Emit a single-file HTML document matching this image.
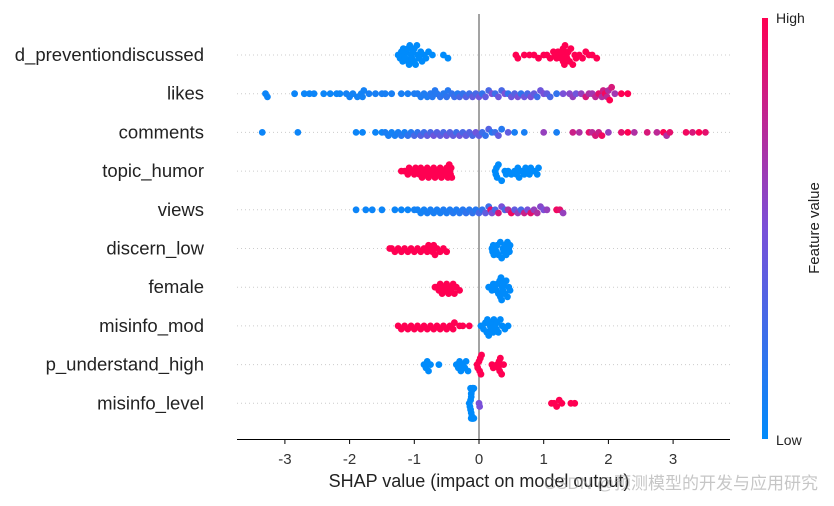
<!DOCTYPE html>
<html><head><meta charset="utf-8"><style>
body{margin:0;background:#fff;}
svg{font-family:"Liberation Sans","Noto Sans CJK SC",sans-serif;}
</style></head><body>
<svg id="chart" width="834" height="501" viewBox="0 0 834 501">
<defs><linearGradient id="cb" x1="0" y1="1" x2="0" y2="0">
<stop offset="0" stop-color="#008bfb"/><stop offset="0.5" stop-color="#7a50d8"/><stop offset="1" stop-color="#ff0052"/></linearGradient></defs>
<g id="grid"></g>
<line x1="479" y1="14" x2="479" y2="440" stroke="#999" stroke-width="1.8"/>
<g id="dots"></g>
<g id="labels"></g>
<line x1="237" y1="439.5" x2="730" y2="439.5" stroke="#000" stroke-width="1"/>
<g id="ticks"></g>
<text x="479" y="487" font-size="18" text-anchor="middle" fill="#222">SHAP value (impact on model output)</text>
<rect x="762" y="18" width="6" height="421" fill="url(#cb)"/>
<text x="776" y="23" font-size="14" fill="#222">High</text>
<text x="776" y="445" font-size="14" fill="#222">Low</text>
<text transform="translate(819,228) rotate(-90)" font-size="15" text-anchor="middle" fill="#222">Feature value</text>
<text x="818" y="489" font-size="17" text-anchor="end" fill="#999" opacity="0.55">CSDN @预测模型的开发与应用研究</text>
</svg>
<script>
const features = ["d_preventiondiscussed","likes","comments","topic_humor","views","discern_low","female","misinfo_mod","p_understand_high","misinfo_level"];
const xTicks = [-3,-2,-1,0,1,2,3];
const shap0 = [-1.25,-1.22,-1.2,-1.18,-1.17,-1.15,-1.14,-1.12,-1.1,-1.1,-1.08,-1.07,-1.05,-1.04,-1.02,-1.0,-1.0,-0.98,-0.96,-0.95,-0.93,-0.9,-0.88,-0.85,-0.82,-0.78,-0.72,-0.55,-0.48,0.57,0.6,0.7,0.78,0.85,0.92,1.0,1.05,1.1,1.15,1.18,1.2,1.22,1.25,1.27,1.28,1.3,1.3,1.32,1.33,1.35,1.36,1.38,1.4,1.42,1.45,1.48,1.5,1.55,1.6,1.65,1.7,1.75,1.82];
const val0 = [0,0,0,0,0,0,0,0,0,0,0,0,0,0,0,0,0,0,0,0,0,0,0,0,0,0,0,0,0,1,1,1,1,1,1,1,1,1,1,1,1,1,1,1,1,1,1,1,1,1,1,1,1,1,1,1,1,1,1,1,1,1,1];
const shap1 = [-3.3,-3.27,-2.85,-2.7,-2.62,-2.55,-2.4,-2.3,-2.2,-2.15,-2.05,-2.0,-1.95,-1.88,-1.82,-1.8,-1.78,-1.7,-1.6,-1.5,-1.45,-1.35,-1.2,-1.1,-1.0,-0.95,-0.9,-0.85,-0.8,-0.75,-0.72,-0.68,-0.65,-0.6,-0.55,-0.5,-0.48,-0.42,-0.38,-0.33,-0.3,-0.25,-0.2,-0.15,-0.1,-0.05,0.0,0.05,0.1,0.15,0.2,0.25,0.3,0.35,0.4,0.45,0.5,0.55,0.6,0.65,0.7,0.75,0.8,0.85,0.9,0.95,1.0,1.05,1.1,1.2,1.3,1.4,1.45,1.5,1.58,1.65,1.7,1.75,1.8,1.85,1.9,1.92,1.95,1.98,2.0,2.02,2.05,2.1,2.2,2.3];
const val1 = [0.05,0.05,0.05,0.05,0.05,0.05,0.05,0.05,0.05,0.05,0.08,0.08,0.08,0.08,0.08,0.08,0.08,0.1,0.1,0.1,0.1,0.1,0.1,0.1,0.12,0.12,0.12,0.12,0.12,0.15,0.15,0.15,0.15,0.2,0.15,0.2,0.15,0.2,0.25,0.15,0.3,0.2,0.35,0.25,0.4,0.3,0.45,0.2,0.4,0.3,0.5,0.25,0.45,0.3,0.5,0.2,0.45,0.35,0.5,0.2,0.45,0.3,0.5,0.4,0.25,0.45,0.5,0.4,0.3,0.2,0.5,0.55,0.6,0.45,0.6,0.85,0.7,0.65,0.75,0.9,0.7,0.8,0.95,0.75,0.7,1,0.85,0.65,1,1];
const shap2 = [-3.35,-2.8,-1.9,-1.8,-1.6,-1.5,-1.45,-1.4,-1.35,-1.3,-1.25,-1.2,-1.15,-1.1,-1.05,-1.0,-0.95,-0.9,-0.85,-0.8,-0.75,-0.7,-0.65,-0.6,-0.55,-0.5,-0.45,-0.4,-0.35,-0.3,-0.25,-0.2,-0.15,-0.1,-0.05,0.0,0.05,0.1,0.15,0.2,0.25,0.3,0.35,0.45,0.55,0.7,1.0,1.2,1.45,1.55,1.7,1.75,1.8,1.85,1.9,2.0,2.2,2.3,2.4,2.6,2.75,2.85,2.9,2.95,3.2,3.3,3.4,3.5];
const val2 = [0.05,0.05,0.05,0.05,0.05,0.05,0.1,0.1,0.08,0.1,0.1,0.15,0.1,0.2,0.15,0.3,0.2,0.35,0.25,0.4,0.3,0.45,0.35,0.4,0.3,0.45,0.35,0.4,0.25,0.45,0.3,0.4,0.35,0.3,0.45,0.4,0.25,0.2,0.35,0.15,0.25,0.4,0.15,0.4,0.1,0.1,0.6,0.1,0.8,0.7,0.9,0.75,0.85,0.8,0.95,0.6,0.9,1,0.7,0.85,0.75,1,0.7,0.9,0.95,0.85,1,0.9];
const shap3 = [-1.2,-1.15,-1.1,-1.08,-1.05,-1.0,-0.98,-0.95,-0.92,-0.9,-0.88,-0.85,-0.82,-0.8,-0.78,-0.75,-0.72,-0.7,-0.68,-0.65,-0.62,-0.6,-0.58,-0.55,-0.52,-0.5,-0.48,-0.46,-0.45,-0.44,-0.43,-0.42,0.25,0.26,0.27,0.28,0.3,0.35,0.4,0.42,0.45,0.5,0.55,0.58,0.6,0.62,0.65,0.7,0.72,0.75,0.78,0.8,0.85,0.9,0.92];
const val3 = [1,1,1,1,1,1,1,1,1,1,1,1,1,1,1,1,1,1,1,1,1,1,1,1,1,1,1,1,1,1,1,1,0,0,0,0,0,0,0,0,0,0,0,0,0,0,0,0,0,0,0,0,0,0,0];
const shap4 = [-1.9,-1.75,-1.65,-1.5,-1.3,-1.2,-1.1,-1.0,-0.95,-0.9,-0.85,-0.8,-0.75,-0.7,-0.65,-0.6,-0.55,-0.5,-0.45,-0.4,-0.35,-0.3,-0.25,-0.2,-0.15,-0.1,-0.05,0.0,0.05,0.1,0.15,0.18,0.2,0.25,0.3,0.35,0.4,0.45,0.5,0.55,0.6,0.65,0.7,0.75,0.8,0.85,0.9,0.95,1.0,1.05,1.2,1.25,1.3];
const val4 = [0.05,0.05,0.05,0.05,0.05,0.05,0.05,0.08,0.08,0.08,0.08,0.1,0.1,0.1,0.1,0.1,0.12,0.12,0.12,0.15,0.12,0.15,0.15,0.2,0.15,0.2,0.15,0.3,0.2,0.4,0.25,0.9,0.5,0.3,0.85,0.5,0.3,0.7,0.95,0.4,0.6,0.3,0.8,0.5,0.9,0.6,0.7,0.55,0.5,0.6,0.95,0.9,0.6];
const shap5 = [-1.38,-1.35,-1.3,-1.25,-1.2,-1.15,-1.1,-1.05,-1.0,-0.95,-0.9,-0.85,-0.8,-0.78,-0.75,-0.72,-0.7,-0.68,-0.65,-0.6,-0.55,-0.5,0.2,0.21,0.22,0.23,0.25,0.27,0.28,0.3,0.33,0.35,0.37,0.38,0.4,0.42,0.44,0.46,0.47,0.48];
const val5 = [1,1,1,1,1,1,1,1,1,1,1,1,1,1,1,1,1,1,1,1,1,1,0,0,0,0,0,0,0,0,0,0,0,0,0,0,0,0,0,0];
const shap6 = [-0.68,-0.65,-0.62,-0.6,-0.57,-0.55,-0.52,-0.5,-0.47,-0.45,-0.43,-0.4,-0.38,-0.35,-0.3,0.15,0.18,0.2,0.22,0.25,0.27,0.28,0.3,0.32,0.33,0.34,0.35,0.36,0.37,0.38,0.4,0.42,0.44,0.46,0.48];
const val6 = [1,1,1,1,1,1,1,1,1,1,1,1,1,1,1,0,0,0,0,0,0,0,0,0,0,0,0,0,0,0,0,0,0,0,0];
const shap7 = [-1.25,-1.2,-1.15,-1.1,-1.05,-1.0,-0.95,-0.9,-0.85,-0.8,-0.75,-0.7,-0.65,-0.6,-0.55,-0.5,-0.45,-0.4,-0.38,-0.3,-0.25,-0.15,0.03,0.05,0.07,0.1,0.12,0.13,0.15,0.17,0.18,0.2,0.22,0.23,0.25,0.27,0.28,0.3,0.33,0.36,0.4,0.45];
const val7 = [1,1,1,1,1,1,1,1,1,1,1,1,1,1,1,1,1,1,1,1,1,1,0,0,0,0,0,0,0,0,0,0,0,0,0,0,0,0,0,0,0,0];
const shap8 = [-0.85,-0.82,-0.8,-0.78,-0.75,-0.62,-0.35,-0.32,-0.3,-0.28,-0.25,-0.22,-0.2,-0.17,-0.03,-0.02,0.0,0.01,0.02,0.03,0.04,0.2,0.22,0.28,0.3,0.31,0.32,0.33,0.35,0.38];
const val8 = [0,0,0,0,0,0,0,0,0,0,0,0,0,0,1,1,1,1,1,1,1,1,1,1,1,1,1,1,1,1];
const shap9 = [-0.15,-0.14,-0.13,-0.13,-0.12,-0.12,-0.12,-0.11,-0.11,-0.11,-0.1,-0.1,-0.1,-0.09,-0.09,-0.08,-0.08,-0.12,-0.13,-0.1,0.0,0.01,1.12,1.16,1.2,1.24,1.28,1.42,1.48];
const val9 = [0,0,0,0,0,0,0,0,0,0,0,0,0,0,0,0,0,0,0,0,0.5,0.5,1,1,1,1,1,1,1];
const shapAll = [shap0,shap1,shap2,shap3,shap4,shap5,shap6,shap7,shap8,shap9];
const valAll = [val0,val1,val2,val3,val4,val5,val6,val7,val8,val9];

const NS = "http://www.w3.org/2000/svg";
const xScale = v => 479 + 64.7 * v;
const yRow = i => 55 + i * 38.7;
function color(t){
  const a=[0,139,251], m=[122,80,216], b=[255,0,82];
  let c;
  if(t<0.5){const k=t/0.5;c=a.map((x,j)=>Math.round(x+(m[j]-x)*k));}
  else{const k=(t-0.5)/0.5;c=m.map((x,j)=>Math.round(x+(b[j]-x)*k));}
  return `rgb(${c[0]},${c[1]},${c[2]})`;
}
const grid=document.getElementById('grid'), dots=document.getElementById('dots'), labels=document.getElementById('labels'), ticks=document.getElementById('ticks');
features.forEach((f,i)=>{
  const y=yRow(i);
  const gl=document.createElementNS(NS,'line');
  gl.setAttribute('x1',237);gl.setAttribute('x2',730);gl.setAttribute('y1',y);gl.setAttribute('y2',y);
  gl.setAttribute('stroke','#ccc');gl.setAttribute('stroke-dasharray','1,3');gl.setAttribute('stroke-width','1');
  
  
  grid.appendChild(gl);
  const t=document.createElementNS(NS,'text');
  t.setAttribute('x',204);t.setAttribute('y',y+6);t.setAttribute('text-anchor','end');t.setAttribute('font-size','18.5');t.setAttribute('fill','#222');
  t.textContent=f;
  
  
  labels.appendChild(t);
  const sv=shapAll[i], vv=valAll[i];
  const bins={};
  sv.forEach((s,k)=>{
    const b=Math.round(s/0.1);
    const n=bins[b]||0; bins[b]=n+1;
    const off=(n%2?1:-1)*Math.ceil(n/2)*3.2;
    const c=document.createElementNS(NS,'circle');
    c.setAttribute('cx',xScale(s));c.setAttribute('cy',y+Math.max(-15,Math.min(15,off)));c.setAttribute('r',3.4);
    c.setAttribute('fill',color(vv[k]));
    
    
    dots.appendChild(c);
  });
});
xTicks.forEach(v=>{
  const x=xScale(v);
  const l=document.createElementNS(NS,'line');
  l.setAttribute('x1',x);l.setAttribute('x2',x);l.setAttribute('y1',440);l.setAttribute('y2',444);l.setAttribute('stroke','#000');
  
  
  ticks.appendChild(l);
  const t=document.createElementNS(NS,'text');
  t.setAttribute('x',x);t.setAttribute('y',464);t.setAttribute('text-anchor','middle');t.setAttribute('font-size','15');t.setAttribute('fill','#333');
  t.textContent=v<0?'-'+Math.abs(v):String(v);
  
  
  ticks.appendChild(t);
});
</script>
</body></html>
